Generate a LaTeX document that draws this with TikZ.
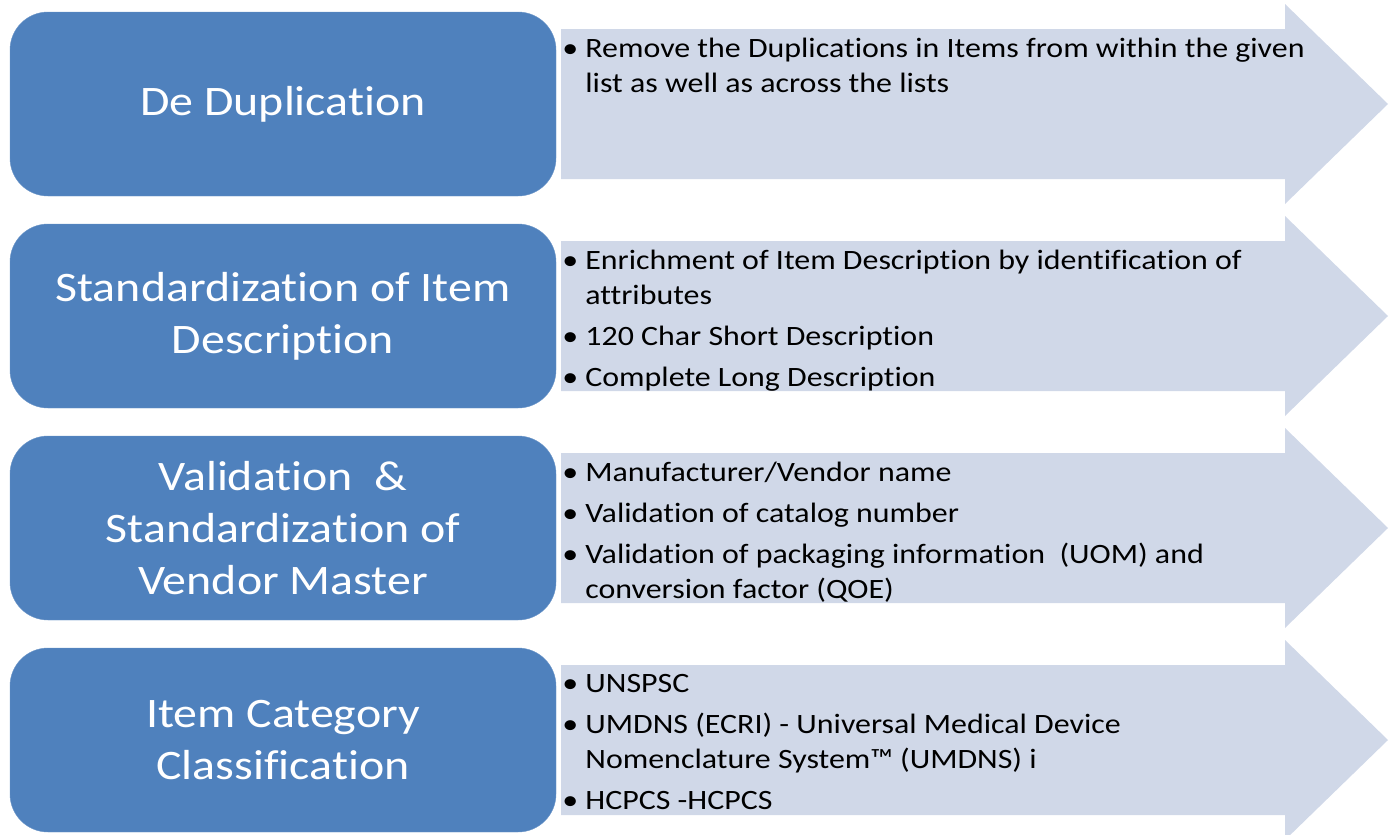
\documentclass[tikz,border=0pt]{standalone}
\usepackage{fontspec}
\setmainfont{Carlito}[FakeStretch=1.14, Ligatures=NoCommon]
\usepackage{tikz}
\usetikzlibrary{calc}
\definecolor{boxblue}{HTML}{4F81BD}
\definecolor{arrowgrey}{HTML}{D0D8E8}
\newcommand{\bul}{\makebox[23pt][l]{\textbullet}}
\newcommand{\ind}{\makebox[23pt][l]{}}

\begin{document}
\begin{tikzpicture}[x=1pt, y=-1pt,
    every node/.style={font=\fontsize{28}{35}\selectfont},
    kasten/.style={rectangle, rounded corners=38pt, fill=boxblue, draw=boxblue!85!white, minimum width=546pt, minimum height=184pt, text=white, align=center, font=\fontsize{42}{52}\selectfont},
    liste/.style={anchor=north west, align=left, inner sep=0pt},
    pfeil/.style={fill=arrowgrey}]
    \useasboundingbox (0,0) rectangle (1393,835);

    % arrows behind the lists
    \fill[pfeil] (561,29) -- (1285,29) -- (1285,4) -- (1388,104) -- (1285,204) -- (1285,179) -- (561,179) -- cycle;
    \fill[pfeil] (561,241) -- (1285,241) -- (1285,216) -- (1388,316) -- (1285,416) -- (1285,391) -- (561,391) -- cycle;
    \fill[pfeil] (561,453) -- (1285,453) -- (1285,428) -- (1388,528) -- (1285,628) -- (1285,603) -- (561,603) -- cycle;
    \fill[pfeil] (561,665) -- (1285,665) -- (1285,640) -- (1388,740) -- (1285,840) -- (1285,815) -- (561,815) -- cycle;

    \node[kasten] (dedup) at (283,104) {De Duplication};
    \node[kasten] (itemdesc) at (283,316) {Standardization of Item\\Description};
    \node[kasten] (vendor) at (283,528) {Validation~ \&\\Standardization of\\Vendor Master};
    \node[kasten] (category) at (283,740) {Item Category\\Classification};

    \node[liste] (dedupitems) at ([xshift=6pt, yshift=-26pt]dedup.north east)
      {\bul Remove the Duplications in Items from within the given\\\ind list as well as across the lists};
    \node[liste] (itemdescitems) at ([xshift=6pt, yshift=-26pt]itemdesc.north east)
      {\bul Enrichment of Item Description by identification of\\\ind attributes\\[6pt]
       \bul 120 Char Short Description\\[6pt]
       \bul Complete Long Description};
    \node[liste] (vendoritems) at ([xshift=6pt, yshift=-26pt]vendor.north east)
      {\bul Manufacturer/Vendor name\\[6pt]
       \bul Validation of catalog number\\[6pt]
       \bul Validation of packaging information~ (UOM) and\\\ind conversion factor (QOE)};
    \node[liste] (categoryitems) at ([xshift=6pt, yshift=-26pt]category.north east)
      {\bul UNSPSC\\[6pt]
       \bul UMDNS (ECRI) - Universal Medical Device\\\ind Nomenclature System™ (UMDNS) i\\[6pt]
       \bul HCPCS -HCPCS};
\end{tikzpicture}
\end{document}
